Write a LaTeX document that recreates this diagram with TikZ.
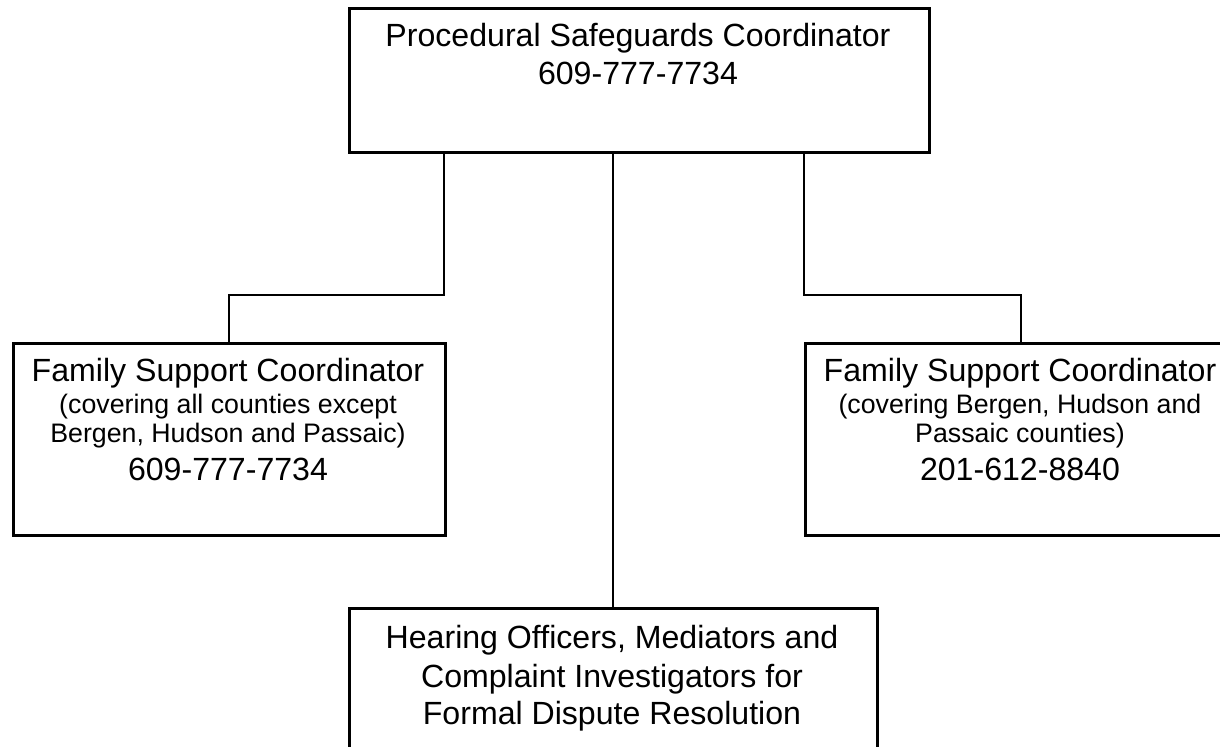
\documentclass[tikz,border=0pt]{standalone}
\usepackage{fontspec}
\setmainfont{Liberation Sans}
\usepackage{tikz}
\usetikzlibrary{positioning}
\newcommand{\pxu}{0.3738pt}

\begin{document}
\begin{tikzpicture}[x=0.3738pt, y=-0.3738pt,
        orgbox/.style={draw, line width=1.1pt, inner sep=0pt, anchor=north west},
        link/.style={line width=0.75pt},
        bigline/.style={anchor=base, inner sep=0pt, font=\fontsize{12}{13.8}\selectfont},
        smallline/.style={anchor=base, inner sep=0pt, font=\fontsize{10}{11.5}\selectfont}]
    \useasboundingbox (0,0) rectangle (1220,747);

    \node[orgbox, minimum width={580*\pxu}, minimum height={144*\pxu}] (psc) at (348,7) {};
    \node[orgbox, minimum width={432*\pxu}, minimum height={192*\pxu}] (fsl) at (12,342) {};
    \node[orgbox, minimum width={432*\pxu}, minimum height={192*\pxu}] (fsr) at (804,342) {};
    \node[orgbox, minimum width={528*\pxu}, minimum height={200*\pxu}] (hor) at (348,607) {};

    \node[bigline] (psc-a) at (638,47) {Procedural Safeguards Coordinator};
    \node[bigline] (psc-b) at (638,85) {609-777-7734};

    \node[bigline] (fsl-a) at (228,382) {Family Support Coordinator};
    \node[smallline] (fsl-b) at (228,414) {(covering all counties except};
    \node[smallline] (fsl-c) at (228,443) {Bergen, Hudson and Passaic)};
    \node[bigline] (fsl-d) at (228,481) {609-777-7734};

    \node[bigline] (fsr-a) at (1020,382) {Family Support Coordinator};
    \node[smallline] (fsr-b) at (1020,414) {(covering Bergen, Hudson and};
    \node[smallline] (fsr-c) at (1020,443) {Passaic counties)};
    \node[bigline] (fsr-d) at (1020,481) {201-612-8840};

    \node[bigline] (hor-a) at (612,649) {Hearing Officers, Mediators and};
    \node[bigline] (hor-b) at (612,687) {Complaint Investigators for};
    \node[bigline] (hor-c) at (612,725) {Formal Dispute Resolution};

    \coordinate (lbend) at (444,295);
    \coordinate (rbend) at (804,295);
    \draw[link] (psc.south -| lbend) -- (lbend) -- (lbend -| fsl.north) -- (fsl.north);
    \draw[link] (psc.south -| rbend) -- (rbend) -- (rbend -| fsr.north) -- (fsr.north);
    \draw[link] (psc.south -| hor.north) -- (hor.north);
\end{tikzpicture}
\end{document}
